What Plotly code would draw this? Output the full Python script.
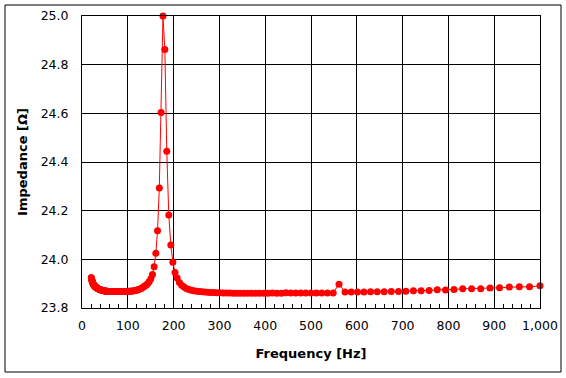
import plotly.graph_objects as go

# Frequency [Hz] (1/30-octave points)
frequency = [
    20.2, 20.6, 21.1, 21.6, 22.1, 22.6, 23.2, 23.7, 24.2, 24.8,
    25.4, 26.0, 26.6, 27.2, 27.8, 28.5, 29.2, 29.8, 30.5, 31.3,
    32.0, 32.7, 33.5, 34.3, 35.1, 35.9, 36.7, 37.6, 38.5, 39.4,
    40.3, 41.2, 42.2, 43.2, 44.2, 45.2, 46.3, 47.4, 48.5, 49.6,
    50.8, 51.9, 53.2, 54.4, 55.7, 57.0, 58.3, 59.7, 61.1, 62.5,
    64.0, 65.5, 67.0, 68.6, 70.2, 71.8, 73.5, 75.2, 76.9, 78.7,
    80.6, 82.5, 84.4, 86.4, 88.4, 90.5, 92.6, 94.7, 96.9, 99.2,
    101.5, 103.9, 106.3, 108.8, 111.4, 114.0, 116.6, 119.4, 122.1, 125.0,
    127.9, 130.9, 134.0, 137.1, 140.3, 143.6, 146.9, 150.4, 153.9, 157.5,
    161.2, 164.9, 168.8, 172.7, 176.8, 180.9, 185.1, 189.5, 193.9, 198.4,
    203.1, 207.8, 212.7, 217.6, 222.7, 227.9, 233.3, 238.7, 244.3, 250.0,
    255.8, 261.8, 267.9, 274.2, 280.6, 287.2, 293.9, 300.8, 307.8, 315.0,
    322.3, 329.9, 337.6, 345.5, 353.6, 361.8, 370.3, 378.9, 387.8, 396.9,
    406.1, 415.6, 425.3, 435.3, 445.4, 455.9, 466.5, 477.4, 488.6, 500.0,
    511.7, 523.6, 535.9, 548.4, 561.2, 574.3, 587.8, 601.5, 615.6, 630.0,
    644.7, 659.8, 675.2, 691.0, 707.1, 723.6, 740.5, 757.9, 775.6, 793.7,
    812.3, 831.2, 850.7, 870.6, 890.9, 911.7, 933.0, 954.8, 977.2, 1000.0,
]

# Impedance [Ohm]
impedance = [
    23.925, 23.921, 23.917, 23.914, 23.911, 23.908, 23.905, 23.902, 23.900, 23.898,
    23.896, 23.894, 23.892, 23.891, 23.889, 23.888, 23.887, 23.886, 23.885, 23.884,
    23.883, 23.882, 23.881, 23.880, 23.879, 23.878, 23.878, 23.877, 23.876, 23.876,
    23.875, 23.874, 23.874, 23.873, 23.873, 23.872, 23.872, 23.871, 23.871, 23.870,
    23.870, 23.870, 23.869, 23.869, 23.869, 23.868, 23.868, 23.868, 23.868, 23.868,
    23.868, 23.868, 23.868, 23.868, 23.868, 23.868, 23.868, 23.868, 23.868, 23.868,
    23.868, 23.868, 23.868, 23.868, 23.868, 23.868, 23.868, 23.868, 23.868, 23.868,
    23.869, 23.869, 23.869, 23.870, 23.870, 23.871, 23.872, 23.873, 23.875, 23.877,
    23.879, 23.882, 23.886, 23.890, 23.895, 23.901, 23.909, 23.920, 23.938, 23.970,
    24.025, 24.117, 24.293, 24.603, 25.000, 24.862, 24.444, 24.182, 24.059, 23.988,
    23.946, 23.923, 23.905, 23.894, 23.886, 23.880, 23.876, 23.873, 23.871, 23.869,
    23.868, 23.867, 23.866, 23.865, 23.864, 23.864, 23.863, 23.863, 23.862, 23.862,
    23.862, 23.861, 23.861, 23.861, 23.861, 23.861, 23.861, 23.861, 23.861, 23.861,
    23.861, 23.862, 23.861, 23.861, 23.863, 23.862, 23.862, 23.862, 23.862, 23.862,
    23.862, 23.862, 23.862, 23.862, 23.898, 23.866, 23.866, 23.866, 23.866, 23.867,
    23.867, 23.867, 23.868, 23.868, 23.869, 23.871, 23.871, 23.872, 23.875, 23.874,
    23.876, 23.879, 23.879, 23.879, 23.882, 23.883, 23.886, 23.887, 23.887, 23.891,
]

x_ticks = [0, 100, 200, 300, 400, 500, 600, 700, 800, 900, 1000]
x_tick_labels = ["0", "100", "200", "300", "400", "500", "600", "700", "800", "900", "1,000"]
y_ticks = [23.8, 24.0, 24.2, 24.4, 24.6, 24.8, 25.0]
y_tick_labels = ["23.8", "24.0", "24.2", "24.4", "24.6", "24.8", "25.0"]

fig = go.Figure()
fig.add_trace(go.Scatter(
    x=frequency, y=impedance, mode="lines+markers",
    line=dict(color="#FF0000", width=1),
    marker=dict(color="#FF0000", size=7, symbol="circle"),
    showlegend=False, cliponaxis=False,
))

font_family = "DejaVu Sans"
fig.update_layout(
    width=566, height=378,
    margin=dict(l=82, r=26, t=16, b=70, autoexpand=False),
    paper_bgcolor="white", plot_bgcolor="white",
    font=dict(family=font_family, size=12.5, color="black"),
    xaxis=dict(
        range=[0, 1000], tickvals=x_ticks, ticktext=x_tick_labels,
        showgrid=True, gridcolor="black", gridwidth=1,
        showline=True, linecolor="black", linewidth=1, mirror=True,
        ticks="inside", ticklen=4, tickcolor="black",
        minor=dict(dtick=20, ticks="inside", ticklen=4, tickcolor="black", showgrid=False),
        zeroline=False, ticklabelstandoff=6, automargin=False,
        title=dict(text="<b>Frequency [Hz]</b>", font=dict(size=13, family=font_family), standoff=16),
    ),
    yaxis=dict(
        range=[23.8, 25.0], tickvals=y_ticks, ticktext=y_tick_labels,
        showgrid=True, gridcolor="black", gridwidth=1,
        showline=True, linecolor="black", linewidth=1, mirror=True,
        ticks="", zeroline=False, ticklabelstandoff=10, automargin=False,
        title=dict(text="<b>Impedance [Ω]</b>", font=dict(size=13, family=font_family), standoff=10),
    ),
    shapes=[dict(
        type="rect", xref="paper", yref="paper",
        x0=(5 - 82) / 458, x1=(561 - 82) / 458,
        y0=-(372 - 308) / 292, y1=1 + (16 - 5) / 292,
        line=dict(color="black", width=1), fillcolor="rgba(0,0,0,0)", layer="below",
    )],
)

fig.write_html("out.html", config={"displayModeBar": False},
               post_script="document.body.style.margin='0';")
